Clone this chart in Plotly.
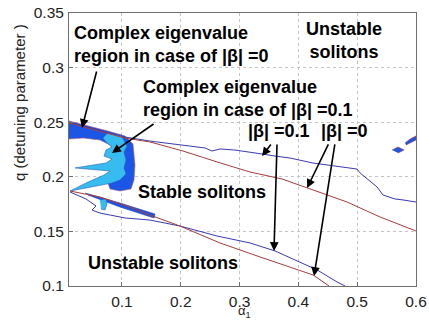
import plotly.graph_objects as go

# Stability boundaries in the (alpha_1, q) plane
# Upper boundary, |beta| = 0
up0_a = [0.0100, 0.0542, 0.1052, 0.1478, 0.2039, 0.2617, 0.3178, 0.3722, 0.4148, 0.4828, 0.5389, 0.6000]
up0_q = [0.2493, 0.2429, 0.2355, 0.2319, 0.2236, 0.2136, 0.2044, 0.1980, 0.1897, 0.1769, 0.1632, 0.1504]
# Upper boundary, |beta| = 0.1
up1_a = [0.0100, 0.0542, 0.1052, 0.1478, 0.2039, 0.2413, 0.2532, 0.2668, 0.2923, 0.3178, 0.3382,
         0.3603, 0.3858, 0.4250, 0.4760, 0.4998, 0.5049, 0.5185, 0.5338, 0.5440, 0.5644, 0.5780, 0.6000]
up1_q = [0.2502, 0.2437, 0.2364, 0.2327, 0.2291, 0.2264, 0.2236, 0.2255, 0.2245, 0.2227, 0.2209,
         0.2190, 0.2172, 0.2126, 0.2090, 0.2071, 0.2035, 0.1971, 0.1907, 0.1833, 0.1797, 0.1788, 0.1769]
# Lower boundary, |beta| = 0
lo0_a = [0.0117, 0.0627, 0.1137, 0.1478, 0.1988, 0.2668, 0.3348, 0.3858, 0.4250, 0.4522]
lo0_q = [0.1870, 0.1815, 0.1723, 0.1650, 0.1549, 0.1394, 0.1266, 0.1174, 0.1101, 0.1000]
# Lower boundary, |beta| = 0.1
lo1_a = [0.0117, 0.0389, 0.0559, 0.0491, 0.0627, 0.1052, 0.1478, 0.1988, 0.2617, 0.3178,
         0.3603, 0.4029, 0.4318, 0.4658, 0.4794]
lo1_q = [0.1861, 0.1797, 0.1733, 0.1696, 0.1668, 0.1623, 0.1604, 0.1549, 0.1458, 0.1394,
         0.1321, 0.1220, 0.1147, 0.1037, 0.1000]

# Complex-eigenvalue region, |beta| = 0 (crescent: outer edge, then inner edge back)
cx0_a = [0.0100, 0.0457, 0.0763, 0.1052, 0.1188, 0.1222, 0.1205, 0.1154, 0.0967, 0.0797,
         0.0763, 0.0865, 0.0899, 0.0865, 0.0899, 0.0797, 0.0627, 0.0338, 0.0100]
cx0_q = [0.2511, 0.2465, 0.2419, 0.2374, 0.2300, 0.2108, 0.1971, 0.1888, 0.1870, 0.1888,
         0.1943, 0.2007, 0.2081, 0.2154, 0.2227, 0.2291, 0.2337, 0.2355, 0.2346]
# thin tongue of the |beta| = 0 region along the lower boundary
cx0b_a = [0.0372, 0.0967, 0.1563, 0.1546, 0.0967, 0.0423]
cx0b_q = [0.1852, 0.1760, 0.1659, 0.1623, 0.1723, 0.1833]
# isolated spots of the |beta| = 0 region
cx0c_a = [0.5593, 0.5695, 0.5797, 0.5695]
cx0c_q = [0.2245, 0.2273, 0.2245, 0.2218]
cx0d_a = [0.5814, 0.5899, 0.6000, 0.6000, 0.5899, 0.5831]
cx0d_q = [0.2310, 0.2346, 0.2374, 0.2337, 0.2310, 0.2291]

# Complex-eigenvalue region, |beta| = 0.1 (zig-zag region)
cx1_a = [0.0763, 0.0984, 0.1086, 0.1035, 0.1069, 0.1035, 0.1069, 0.0967, 0.0831, 0.0542, 0.0117,
         0.0423, 0.0695, 0.0797, 0.0627, 0.0202, 0.0508, 0.0729, 0.0831, 0.0695, 0.0729, 0.0831,
         0.0729, 0.0678]
cx1_q = [0.2401, 0.2383, 0.2282, 0.2227, 0.2154, 0.2081, 0.2025, 0.1971, 0.1943, 0.1916, 0.1870,
         0.1952, 0.2016, 0.2053, 0.2062, 0.2081, 0.2108, 0.2126, 0.2163, 0.2190, 0.2245, 0.2273,
         0.2319, 0.2355]
cx1b_a = [0.0627, 0.0729, 0.0746, 0.0712, 0.0644]
cx1b_q = [0.1788, 0.1797, 0.1751, 0.1696, 0.1705]

BLUE = "#3a3ab4"
RED = "#a83c3c"
DARK = "#1c56e6"
LIGHT = "#36bcee"
FONT = "Liberation Sans, Arial, sans-serif"

fig = go.Figure()


def region(a, q, color, edge):
    fig.add_trace(go.Scatter(x=a, y=q, fill="toself", fillcolor=color, mode="lines",
                             line=dict(color=edge, width=0.6), hoverinfo="skip"))


region(cx0_a, cx0_q, DARK, "#b0607a")
region(cx0b_a, cx0b_q, DARK, "#2a3f9a")
region(cx0c_a, cx0c_q, DARK, RED)
region(cx0d_a, cx0d_q, DARK, RED)
region(cx1_a, cx1_q, LIGHT, "#2a5fbf")
region(cx1b_a, cx1b_q, LIGHT, "#2a5fbf")

for a, q, c in [(up1_a, up1_q, BLUE), (up0_a, up0_q, RED),
                (lo1_a, lo1_q, BLUE), (lo0_a, lo0_q, RED)]:
    fig.add_trace(go.Scatter(x=a, y=q, mode="lines", line=dict(color=c, width=1),
                             hoverinfo="skip"))

BOLD = dict(family=FONT, size=18, color="black", weight="bold")

labels = [
    (0.0168, 0.3210, "Complex eigenvalue<br>region in case of |β| =0", "left", "left"),
    (0.1341, 0.2720, "Complex eigenvalue<br>region in case of |β| =0.1", "left", "left"),
    (0.4777, 0.3244, "Unstable<br>solitons", "center", "center"),
    (0.3127, 0.2420, "|β| =0.1", "left", "left"),
    (0.4369, 0.2420, "|β| =0", "left", "left"),
    (0.1256, 0.1865, "Stable solitons", "left", "left"),
    (0.0406, 0.1215, "Unstable solitons", "left", "left"),
]
for x, y, t, xa, al in labels:
    fig.add_annotation(x=x, y=y, text=t, showarrow=False, xanchor=xa, yanchor="middle",
                       align=al, font=BOLD, borderpad=0)

# arrows: (tail_a, tail_q, tip_a, tip_q)
arrows = [
    (0.0576, 0.2978, 0.0321, 0.2447),
    (0.1563, 0.2493, 0.0831, 0.2218),
    (0.3552, 0.2310, 0.3382, 0.2190),
    (0.3637, 0.2310, 0.3586, 0.1321),
    (0.4522, 0.2310, 0.4148, 0.1897),
    (0.4624, 0.2310, 0.4267, 0.1092),
]
for ta, tq, ha, hq in arrows:
    fig.add_annotation(x=ha, y=hq, ax=ta, ay=tq, xref="x", yref="y", axref="x", ayref="y",
                       text="", showarrow=True, arrowhead=2, arrowsize=1.1, arrowwidth=1.6,
                       arrowcolor="black")

# axis titles
fig.add_annotation(x=-0.144, y=0.67, xref="paper", yref="paper", text="q (detuning parameter )",
                   textangle=-90, showarrow=False, xanchor="center", yanchor="middle",
                   font=dict(family=FONT, size=15, color="#222"))
fig.add_annotation(x=0.505, y=-0.127, xref="paper", yref="paper", text="α<sub>1</sub>",
                   showarrow=False, xanchor="center", yanchor="bottom", borderpad=0,
                   font=dict(family=FONT, size=13, color="#222"))

AX = dict(showline=True, mirror=True, linecolor="#6e6e6e", linewidth=1,
          ticks="inside", ticklen=4, tickcolor="#6e6e6e", automargin=False,
          showgrid=True, gridcolor="#c4c4c4", griddash="dot", gridwidth=1,
          zeroline=False, tickfont=dict(family=FONT, size=15.5, color="#222"))

fig.update_layout(
    width=429, height=321, margin=dict(l=69, r=13, t=13, b=35),
    paper_bgcolor="white", plot_bgcolor="white", showlegend=False,
    xaxis=dict(range=[0.01, 0.6], tickvals=[0.1, 0.2, 0.3, 0.4, 0.5, 0.6],
               ticktext=["0.1", "0.2", "0.3", "0.4", "0.5", "0.6"],
               ticklabelstandoff=1, **AX),
    yaxis=dict(range=[0.1, 0.35], tickvals=[0.1, 0.15, 0.2, 0.25, 0.3, 0.35],
               ticktext=["0.1", "0.15", "0.2", "0.25", "0.3", "0.35"],
               ticklabelstandoff=1, **AX),
)

fig.write_html("out.html")
